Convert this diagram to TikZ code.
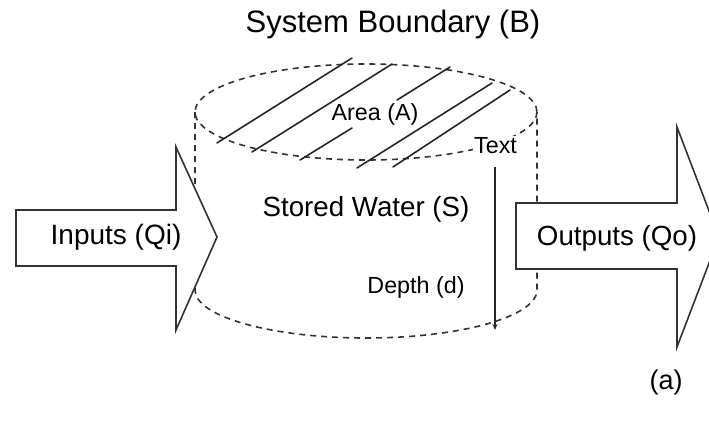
\documentclass[tikz,border=0pt]{standalone}
\usepackage{fontspec}
\setmainfont{Liberation Sans}
\usetikzlibrary{arrows.meta}
\begin{document}
\begin{tikzpicture}[x=1pt,y=-1pt,
  bound/.style={line width=1.6pt, dash pattern=on 6pt off 5pt, black!80},
  hatch/.style={line width=1.6pt, black!85, line cap=round},
  bigarrow/.style={draw=black!80, line width=1.6pt, fill=white, line join=miter},
  lbl/.style={inner sep=0pt, text=black},
  big/.style={font=\fontsize{27.7}{32}\selectfont},
  small/.style={font=\fontsize{23.3}{27}\selectfont}]
\useasboundingbox (0,0) rectangle (709,426);
\clip (0,0) rectangle (709,426);
% cylinder (system boundary)
\draw[bound] (366,112) ellipse [x radius=171, y radius=48];
\draw[bound] (195,112) -- (195,290) arc[start angle=180, end angle=0, x radius=171, y radius=48] -- (537,112);
% hatching of the area
\draw[hatch] (217,143) -- (352,58);
\draw[hatch] (252,152) -- (392,64);
\draw[hatch] (300,160) -- (352,128);
\draw[hatch] (397,100) -- (450,67);
\draw[hatch] (357,168) -- (492,83);
\draw[hatch] (393,167) -- (510,90);
% input and output arrows
\draw[bigarrow] (16,210) -- (176,210) -- (176,147) -- (217,237) -- (176,330) -- (176,266) -- (16,266) -- cycle;
\draw[bigarrow] (516,203) -- (677,203) -- (677,127) -- (719,237) -- (677,347) -- (677,269) -- (516,269) -- cycle;
% labels
\node[lbl, font=\fontsize{31}{36}\selectfont] (title) at (393,24) {System Boundary (B)};
\node[lbl, small] (area) at (375,114) {Area (A)};
\node[lbl, small, fill=white, inner sep=1.5pt] (txt) at (495.5,146) {Text};
\node[lbl, big] (stored) at (366,209) {Stored Water (S)};
\node[lbl, small] (depth) at (416,287) {Depth (d)};
\node[lbl, font=\fontsize{28}{32}\selectfont] (inputs) at (116,237) {Inputs (Qi)};
\node[lbl, big] (outputs) at (617,238) {Outputs (Qo)};
\node[lbl, font=\fontsize{27}{32}\selectfont] (fig) at (666,383) {(a)};
% depth marker
\coordinate (dtop) at (495,167);
\coordinate (dbot) at (495,330);
\draw[line width=1.5pt, black!85, -{Stealth[length=6pt,width=5pt]}] (dtop) -- (dbot);
\end{tikzpicture}
\end{document}
